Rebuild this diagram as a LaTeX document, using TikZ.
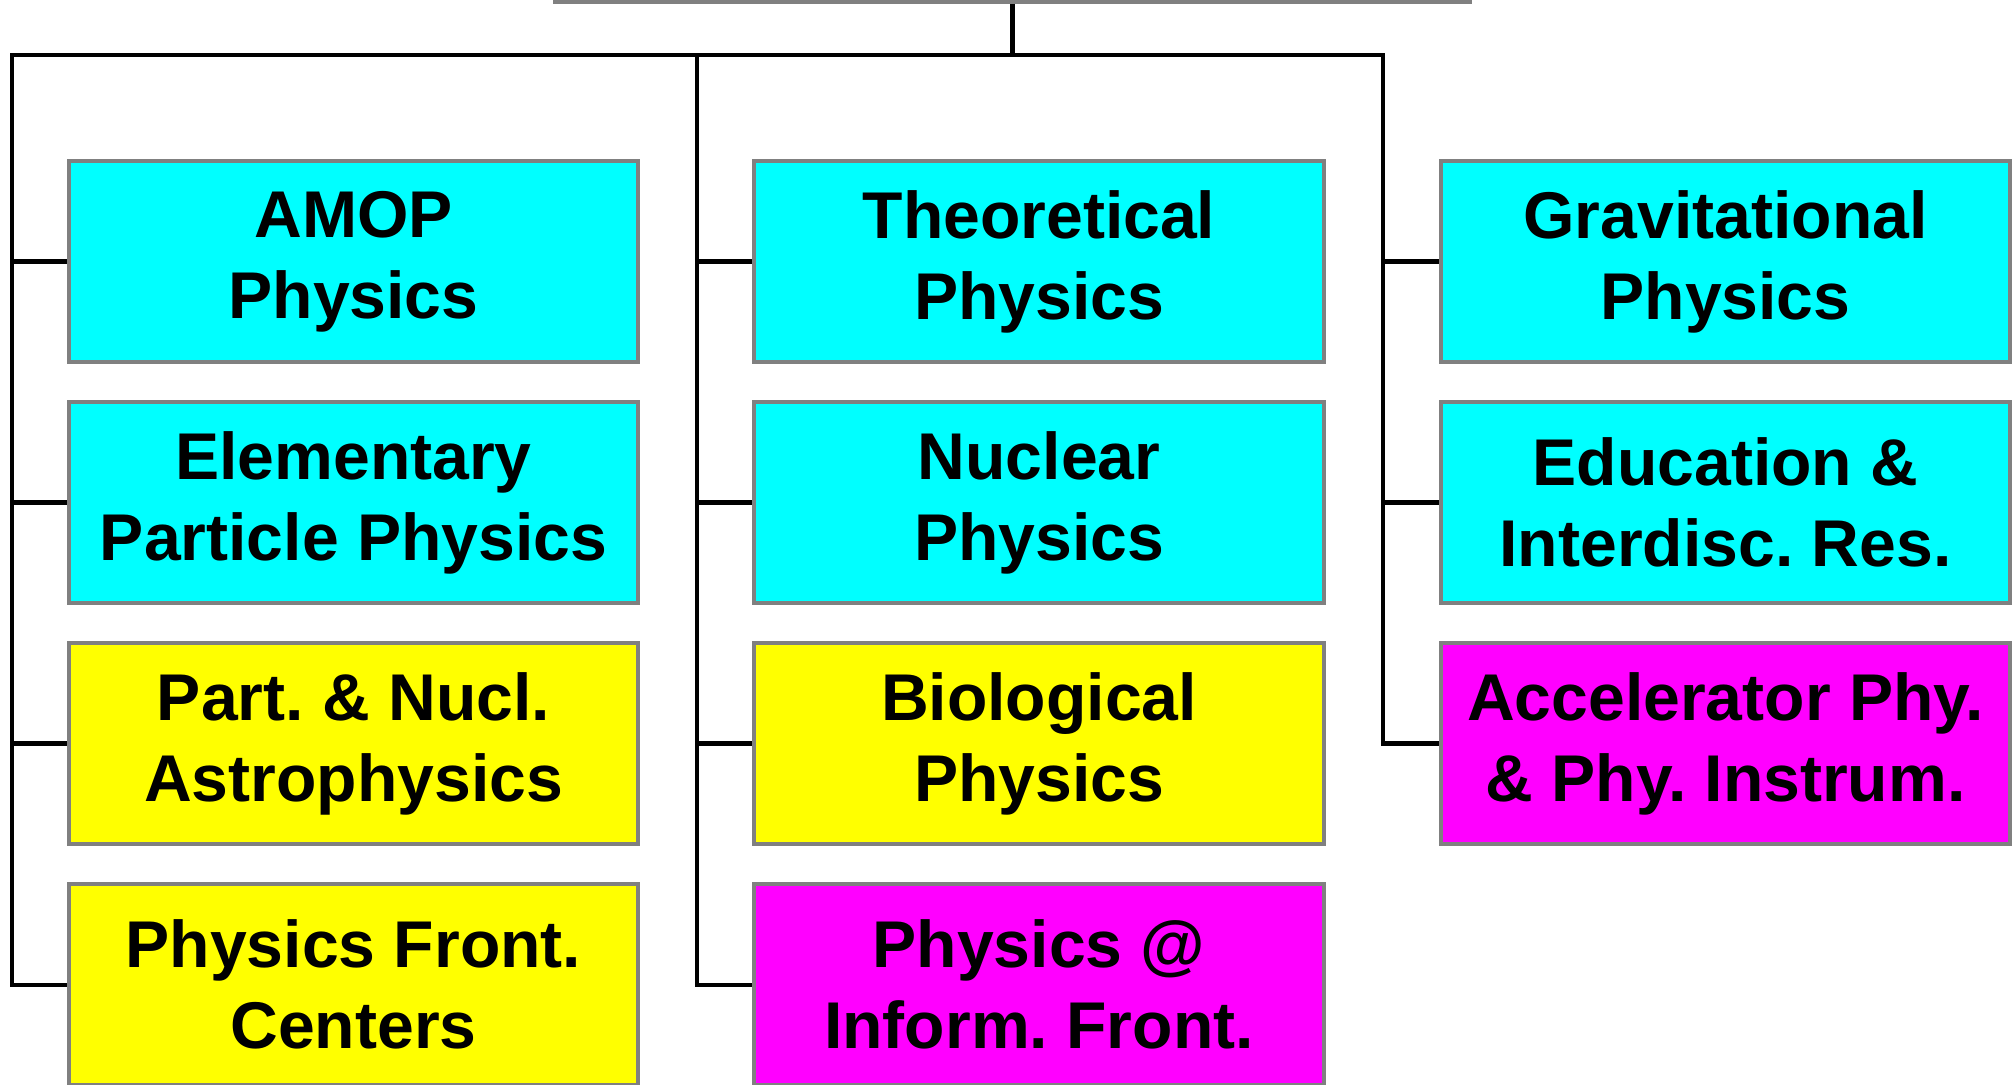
\documentclass[tikz,border=0pt]{standalone}
\usepackage{fontspec}
\setmainfont{Liberation Sans}
\usetikzlibrary{positioning}
\definecolor{divcyan}{HTML}{00FFFF}
\definecolor{divyellow}{HTML}{FFFF00}
\definecolor{divmagenta}{HTML}{FF00FF}
\definecolor{boxgrey}{HTML}{808080}
\frenchspacing

\begin{document}
\begin{tikzpicture}[
  x=0.01cm, y=-0.01cm,
  unitbox/.style={
    draw=boxgrey,
    line width=1.1pt,
    minimum width=5.69cm,
    minimum height=2.01cm,
    inner sep=0pt,
    align=center,
    font=\fontsize{18.8}{23}\selectfont\bfseries
  },
  tree/.style={draw=black, line width=1.15pt}
]
  \useasboundingbox (0,0) rectangle (2016,1084);
  \clip (0,0) rectangle (2016,1084);

  % Parent box (only its lower edge is in view)
  \node[draw=boxgrey, line width=1.1pt, minimum width=9.15cm, minimum height=1cm] (parent) at (1012.5,-48) {};

  % Bus coordinates
  \coordinate (colA) at (12,55);
  \coordinate (colB) at (697,55);
  \coordinate (colC) at (1383,55);

  % COLUMN 1
  \node[unitbox, fill=divcyan] (amop) at (353.5,261.5) {AMOP\\Physics};
  \node[unitbox, fill=divcyan] (elem) at (353.5,502.5) {Elementary\\Particle Physics};
  \node[unitbox, fill=divyellow] (pna) at (353.5,743.5) {Part. \& Nucl.\\Astrophysics};
  \node[unitbox, fill=divyellow] (pfc) at (353.5,984.5) {Physics Front.\\Centers};

  % COLUMN 2
  \node[unitbox, fill=divcyan] (theo) at (1039,261.5) {Theoretical\\Physics};
  \node[unitbox, fill=divcyan] (nucl) at (1039,502.5) {Nuclear\\Physics};
  \node[unitbox, fill=divyellow] (bio) at (1039,743.5) {Biological\\Physics};
  \node[unitbox, fill=divmagenta] (info) at (1039,984.5) {Physics @\\Inform. Front.};

  % COLUMN 3
  \node[unitbox, fill=divcyan] (grav) at (1725.5,261.5) {Gravitational\\Physics};
  \node[unitbox, fill=divcyan] (educ) at (1725.5,502.5) {Education \&\\Interdisc. Res.};
  \node[unitbox, fill=divmagenta] (accel) at (1725.5,743.5) {Accelerator Phy.\\\& Phy. Instrum.};

  % Tree lines
  \draw[tree] (parent.south) -- (parent.south |- colA);
  \draw[tree] (pfc.west) -| (colA) -- (colC) |- (accel.west);
  \draw[tree] (colB) |- (info.west);

  % Stubs into the boxes
  \draw[tree] (colA |- amop.west) -- (amop.west);
  \draw[tree] (colA |- elem.west) -- (elem.west);
  \draw[tree] (colA |- pna.west) -- (pna.west);
  \draw[tree] (colB |- theo.west) -- (theo.west);
  \draw[tree] (colB |- nucl.west) -- (nucl.west);
  \draw[tree] (colB |- bio.west) -- (bio.west);
  \draw[tree] (colC |- grav.west) -- (grav.west);
  \draw[tree] (colC |- educ.west) -- (educ.west);

\end{tikzpicture}
\end{document}
